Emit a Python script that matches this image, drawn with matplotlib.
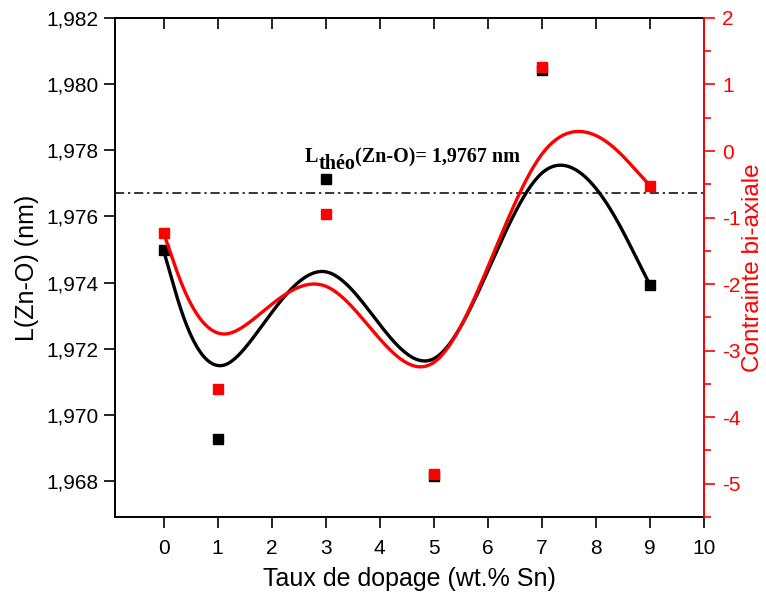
import numpy as np
import matplotlib
matplotlib.use("Agg")
import matplotlib.pyplot as plt
import matplotlib.ticker as ticker

plt.rcParams['font.family'] = ['Liberation Sans', 'DejaVu Sans']
plt.rcParams['axes.unicode_minus'] = False

# doping rate (wt.% Sn)
dopage = [0, 1, 3, 5, 7, 9]
# Zn-O bond length (nm)
longueur = [1.97497, 1.96927, 1.97713, 1.96815, 1.98044, 1.97393]
# bi-axial stress
contrainte = [-1.23, -3.58, -0.94, -4.85, 1.27, -0.52]
l_theo = 1.9767


# uniform cubic B-spline, data points used as control points, end points repeated
# so the curve starts/ends on them (same look as Origin's "B-Spline" connect)
def bspline(px, py, n=60):
    px = np.concatenate([[px[0]] * 2, px, [px[-1]] * 2]).astype(float)
    py = np.concatenate([[py[0]] * 2, py, [py[-1]] * 2]).astype(float)
    t = np.linspace(0, 1, n)
    b0 = (1 - t) ** 3 / 6
    b1 = (3 * t ** 3 - 6 * t ** 2 + 4) / 6
    b2 = (-3 * t ** 3 + 3 * t ** 2 + 3 * t + 1) / 6
    b3 = t ** 3 / 6
    xs, ys = [], []
    for i in range(len(px) - 3):
        xs.append(b0 * px[i] + b1 * px[i + 1] + b2 * px[i + 2] + b3 * px[i + 3])
        ys.append(b0 * py[i] + b1 * py[i + 1] + b2 * py[i + 2] + b3 * py[i + 3])
    return np.concatenate(xs), np.concatenate(ys)


fig = plt.figure(figsize=(7.66, 5.98), dpi=100)
ax = fig.add_axes([0.150, 0.1355, 0.769, 0.8345])

bx, by = bspline(dopage, longueur)
ax.plot(bx, by, color='black', lw=2.4, zorder=2)
ax.plot(dopage, longueur, 's', color='black', ms=7, zorder=3)
ax.axhline(l_theo, color='black', lw=1.1, linestyle=(0, (6, 2.5, 1.5, 2.5)), zorder=1)

# L_théo(Zn-O)= 1,9767 nm  (subscript nearly full size, Times bold)
font_ann = dict(family='Liberation Serif', fontweight='bold', fontsize=14.5)
t1 = ax.text(2.62, 1.97764, 'L', va='baseline', **font_ann)
t2 = ax.annotate('théo', xy=(1, 0), xycoords=t1, xytext=(0, -5), textcoords='offset points',
                 va='bottom', ha='left', **font_ann)
ax.annotate('(Zn-O)= 1,9767 nm', xy=(1, 0), xycoords=t2, xytext=(0, 5),
            textcoords='offset points', va='bottom', ha='left', **font_ann)

ax.set_xlim(-0.9, 10)
ax.set_ylim(1.96691, 1.982)
ax.set_xticks(range(0, 11))
ax.set_yticks(np.arange(1.968, 1.9821, 0.002))
ax.yaxis.set_major_formatter(ticker.FuncFormatter(lambda v, p: f'{v:.3f}'.replace('.', ',')))
ax.tick_params(axis='y', direction='out', length=8, width=1.2, labelsize=15, pad=4)
ax.tick_params(axis='x', direction='out', length=8, width=1.2, labelsize=15, pad=8)
top = ax.secondary_xaxis('top')
top.set_xticks(range(0, 11))
top.tick_params(direction='in', length=8, width=1.2, labeltop=False)
top.spines['top'].set_linewidth(1.4)
for s in ax.spines.values():
    s.set_linewidth(1.4)
ax.set_xlabel('Taux de dopage (wt.% Sn)', fontsize=18, labelpad=6)
ax.set_ylabel('L(Zn-O) (nm)', fontsize=18, labelpad=5)

ax2 = ax.twinx()
rx, ry = bspline(dopage, contrainte)
ax2.plot(rx, ry, color='red', lw=2.4, zorder=2)
ax2.plot(dopage, contrainte, 's', color='red', ms=7, zorder=3)
ax2.set_ylim(-5.5, 2)
ax2.set_yticks(range(-5, 3))
ax2.yaxis.set_minor_locator(ticker.MultipleLocator(0.5))
ax2.tick_params(axis='y', which='both', colors='red', direction='out', width=1.2,
                labelsize=15, pad=5)
ax2.tick_params(axis='y', which='major', length=8)
ax2.tick_params(axis='y', which='minor', length=5)
ax2.spines['right'].set_color('red')
ax2.spines['right'].set_linewidth(1.4)
ax2.spines['top'].set_visible(False)
ax2.spines['bottom'].set_visible(False)
ax2.spines['left'].set_visible(False)
ax2.set_ylabel('Contrainte bi-axiale', color='red', fontsize=17.5, labelpad=1)

fig.savefig('out.png', dpi=100)
